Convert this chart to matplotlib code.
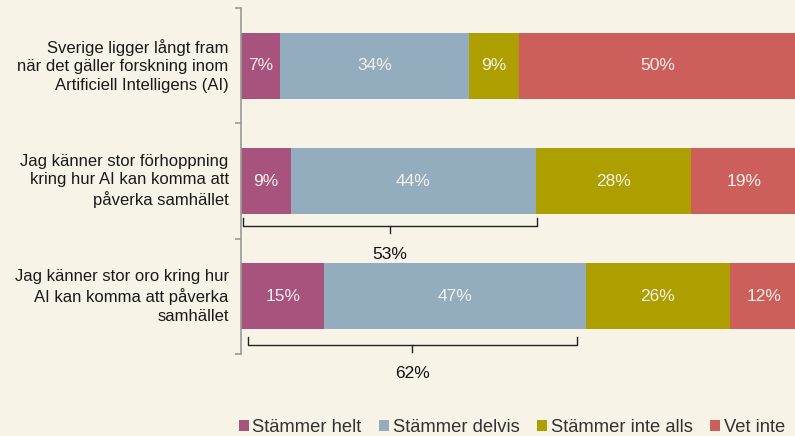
import numpy as np
import matplotlib.pyplot as plt

plt.rcParams['font.family'] = ['Liberation Sans', 'DejaVu Sans']

questions = ['Sverige ligger långt fram\nnär det gäller forskning inom\nArtificiell Intelligens (AI)',
             'Jag känner stor förhoppning\nkring hur AI kan komma att\npåverka samhället',
             'Jag känner stor oro kring hur\nAI kan komma att påverka\nsamhället']
series = ['Stämmer helt', 'Stämmer delvis', 'Stämmer inte alls', 'Vet inte']
helt = [7, 9, 15]
delvis = [34, 44, 47]
inte_alls = [9, 28, 26]
vet_inte = [50, 19, 12]
colors = ['#a8527e', '#93adbf', '#ae9f00', '#cc5f5b']
bg = '#f7f3e6'

# brackets under bars 2 and 3: (row, start, end, offset below bar centre)
brackets = [(1, 0.4, 53.2, 0.32), (2, 1.3, 60.4, 0.35)]

fig = plt.figure(figsize=(7.95, 4.36), dpi=100, facecolor=bg)
ax = fig.add_axes([0.3031, 0.188, 0.6994, 0.7936], facecolor=bg)

y = np.arange(len(questions))
left = np.zeros(len(questions))
for name, vals, c in zip(series, [helt, delvis, inte_alls, vet_inte], colors):
    vals = np.array(vals, dtype=float)
    ax.barh(y, vals, left=left, height=0.57, color=c, label=name)
    for yi, l, v in zip(y, left, vals):
        ax.text(l + v / 2, yi, f'{v:.0f}%', ha='center', va='center',
                color='#f4f1ea', fontsize=12.5)
    left += vals

ax.set_xlim(0, 100)
ax.set_ylim(2.5, -0.5)
ax.set_xticks([])
ax.set_yticks([])
ax.set_yticks([-0.5, 0.5, 1.5, 2.5], minor=True)
ax.tick_params(axis='y', which='minor', length=4, color='#999999', width=1.2)
for s in ['top', 'right', 'bottom']:
    ax.spines[s].set_visible(False)
ax.spines['left'].set_color('#999999')
ax.spines['left'].set_linewidth(1.2)

for yi, q in zip(y, questions):
    ax.text(-2.2, yi, q, ha='right', va='center', fontsize=12, color='#1a1a1a',
            linespacing=1.3)

for row, a, b, off in brackets:
    top = row + off
    mid = top + 0.07
    m = (a + b) / 2
    pct = helt[row] + delvis[row]
    ax.plot([a, a, b, b], [top, mid, mid, top], color='#222222', lw=1, clip_on=False)
    ax.plot([m, m], [mid, mid + 0.06], color='#222222', lw=1, clip_on=False)
    ax.text(m, mid + 0.25, f'{pct}%', ha='center', va='center', fontsize=12.5,
            color='#111111', clip_on=False)

ax.legend(loc='center left', bbox_to_anchor=(-0.004, -0.211), ncol=4, frameon=False,
          handlelength=0.55, handleheight=0.55, handletextpad=0.2, columnspacing=0.95,
          fontsize=13.2, labelcolor='#333333', borderaxespad=0, borderpad=0)

fig.savefig('out.png', dpi=100, facecolor=bg)
